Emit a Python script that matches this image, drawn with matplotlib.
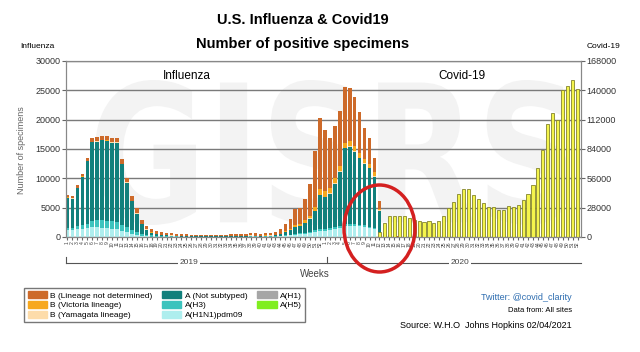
import numpy as np
import matplotlib
matplotlib.use("Agg")
import matplotlib.pyplot as plt
from matplotlib.patches import Patch, Ellipse, PathPatch
from matplotlib.textpath import TextPath
from matplotlib.font_manager import FontProperties
from matplotlib.transforms import Affine2D, blended_transform_factory

plt.rcParams['font.family'] = ['Liberation Sans Narrow', 'Liberation Sans', 'DejaVu Sans']

# week labels: 2019 weeks 1-52 then 2020 weeks 1-52
weeks_2019 = [str(w) for w in range(1, 53)]
weeks_2020 = [str(w) for w in range(1, 53)]
week_labels = weeks_2019 + weeks_2020

# influenza positives per week (left axis)
b_nd = [350, 350, 400, 450, 500, 550, 600, 650, 650, 700,
        700, 750, 700, 800, 800, 650, 500, 500, 420, 380,
        350, 320, 290, 270, 260, 250, 240, 230, 225, 230,
        240, 235, 250, 270, 290, 300, 310, 420, 350, 330,
        390, 420, 540, 780, 1130, 1620, 2660, 2710, 3650, 5340,
        9470, 12000, 10350, 8560, 8910, 9460, 9510, 9060, 8470, 6970,
        5230, 4330, 2390, 1320, 300, 120, 60, 40, 30, 20,
        15, 10, 10, 10, 10, 10, 10, 10, 10, 10,
        10, 10, 10, 10, 10, 10, 10, 10, 10, 10,
        10, 10, 10, 10, 10, 10, 15, 15, 15, 20,
        20, 20, 20, 20]
b_vic = [80, 80, 90, 100, 100, 120, 120, 130, 130, 130,
         130, 120, 100, 100, 90, 70, 60, 40, 30, 25,
         20, 18, 15, 15, 14, 13, 12, 12, 11, 12,
         12, 12, 13, 14, 15, 15, 16, 20, 18, 17,
         20, 22, 30, 40, 150, 200, 300, 350, 400, 500,
         700, 1000, 1000, 900, 900, 900, 900, 900, 850, 800,
         750, 700, 650, 300, 20, 10, 5, 0, 0, 0,
         0, 0, 0, 0, 0, 0, 0, 0, 0, 0,
         0, 0, 0, 0, 0, 0, 0, 0, 0, 0,
         0, 0, 0, 0, 0, 0, 0, 0, 0, 0,
         0, 0, 0, 0]
b_yam = [20, 20, 20, 20, 20, 20, 20, 20, 20, 20,
         20, 20, 20, 20, 20, 20, 20, 10, 8, 6,
         5, 5, 4, 4, 3, 3, 3, 3, 3, 3,
         3, 3, 3, 3, 3, 3, 3, 4, 4, 3,
         4, 4, 5, 6, 20, 30, 40, 40, 50, 60,
         80, 100, 100, 90, 90, 90, 90, 90, 80, 80,
         70, 70, 60, 30, 0, 0, 0, 0, 0, 0,
         0, 0, 0, 0, 0, 0, 0, 0, 0, 0,
         0, 0, 0, 0, 0, 0, 0, 0, 0, 0,
         0, 0, 0, 0, 0, 0, 0, 0, 0, 0,
         0, 0, 0, 0]
a_ns = [5050, 4950, 6490, 8230, 10580, 13310, 13360, 13550, 13600, 13400,
        13500, 10260, 7580, 4880, 3140, 1660, 900, 490, 300, 230,
        195, 140, 110, 105, 95, 85, 80, 70, 70, 75,
        85, 80, 95, 95, 100, 100, 110, 160, 140, 115,
        140, 150, 195, 285, 600, 780, 1150, 1300, 1680, 2200,
        3250, 5700, 5420, 5920, 7400, 9180, 12950, 13150, 12270, 11300,
        10520, 9950, 8780, 3800, 250, 100, 60, 40, 30, 20,
        15, 10, 10, 10, 10, 10, 10, 10, 10, 10,
        10, 10, 10, 10, 10, 10, 10, 10, 10, 10,
        10, 10, 10, 10, 10, 10, 10, 10, 10, 10,
        10, 10, 10, 10]
a_h3 = [400, 400, 500, 600, 800, 1100, 1200, 1300, 1300, 1300,
        1300, 1100, 900, 700, 500, 350, 250, 180, 130, 110,
        90, 80, 70, 60, 55, 50, 45, 45, 40, 40,
        40, 40, 40, 45, 45, 50, 50, 60, 55, 50,
        55, 60, 70, 90, 100, 120, 150, 150, 170, 200,
        250, 300, 280, 280, 300, 320, 350, 350, 330, 300,
        280, 250, 220, 100, 30, 10, 5, 0, 0, 0,
        0, 0, 0, 0, 0, 0, 0, 0, 0, 0,
        0, 0, 0, 0, 0, 0, 0, 0, 0, 0,
        0, 0, 0, 0, 0, 0, 0, 0, 0, 0,
        0, 0, 0, 0]
a_h1n1 = [1200, 1200, 1300, 1400, 1500, 1700, 1700, 1600, 1500, 1400,
          1300, 1000, 800, 500, 350, 200, 120, 80, 60, 50,
          40, 35, 30, 25, 25, 20, 20, 20, 20, 20,
          20, 20, 20, 25, 25, 30, 30, 35, 35, 35,
          40, 45, 60, 100, 200, 300, 400, 450, 550, 700,
          900, 1100, 1100, 1200, 1400, 1600, 1800, 1900, 1900, 1800,
          1700, 1500, 1300, 600, 100, 40, 20, 10, 0, 0,
          0, 0, 0, 0, 0, 0, 0, 0, 0, 0,
          0, 0, 0, 0, 0, 0, 0, 0, 0, 0,
          0, 0, 0, 0, 0, 0, 0, 0, 0, 0,
          0, 0, 0, 0]

# covid-19 positives per week (right axis), from 2020 week 12 on
covid_from = 63
covid_vals = [4800, 13400, 19800, 20500, 19800, 20500, 18200, 16600, 15400, 14500,
              15000, 13700, 15200, 19800, 28000, 33800, 41400, 45500, 45500, 40300,
              36300, 32800, 28300, 28300, 25500, 25500, 29300, 28600, 30200, 35000,
              40600, 49300, 65800, 83000, 108300, 118100, 111800, 140700, 144000, 150000,
              141700]

W, H = 640, 352
def fx(px):
    return px / W
def fy(py):
    return 1 - py / H

fig = plt.figure(figsize=(6.4, 3.52), dpi=100)
ax = fig.add_axes([fx(66), fy(237), fx(581) - fx(66), fy(61) - fy(237)])
ax2 = ax.twinx()

x = np.arange(len(week_labels))

# faint GISRS watermark behind the bars
tp = TextPath((0, 0), "GISRS", size=1, prop=FontProperties(family='DejaVu Sans', weight='bold'))
ext = tp.get_extents()
x0, x1 = (95 - 66) / 515, (570 - 66) / 515
y0, y1 = (237 - 225) / 176, (237 - 80) / 176
tr = (Affine2D().translate(-ext.x0, -ext.y0)
      .scale((x1 - x0) / ext.width, (y1 - y0) / ext.height)
      .translate(x0, y0) + ax.transAxes)
ax.add_patch(PathPatch(tp, transform=tr, facecolor='#f3f3f3', edgecolor='none', zorder=0.2))

flu = [
    (a_h1n1, '#aeeeee', 'A(H1N1)pdm09'),
    (a_h3, '#3cc3bd', 'A(H3)'),
    (a_ns, '#11807c', 'A (Not subtyped)'),
    (b_yam, '#fddcaa', 'B (Yamagata lineage)'),
    (b_vic, '#f7a81e', 'B (Victoria lineage)'),
    (b_nd, '#cd6a2a', 'B (Lineage not determined)'),
]
bottom = np.zeros(len(x))
for vals, col, lab in flu:
    vals = np.array(vals, dtype=float)
    ax.bar(x, vals, 0.72, bottom=bottom, color=col, zorder=2)
    bottom += vals

covid = np.zeros(len(x))
covid[covid_from:covid_from + len(covid_vals)] = covid_vals
ax2.bar(x, covid, 0.62, color='#f4f44c', edgecolor='#85852c', linewidth=0.6, zorder=2)

ax.set_xlim(-0.3, 103.7)
ax.set_ylim(0, 30000)
ax.set_yticks(range(0, 30001, 5000))
ax2.set_ylim(0, 168000)
ax2.set_yticks(range(0, 168001, 28000))
ax.grid(axis='y', color='#7a7a7a', linewidth=1.0)
ax.set_axisbelow(True)

ax.set_xticks(x)
ax.set_xticklabels(week_labels, rotation=90, fontsize=3.6, color='#444444')
ax.tick_params(axis='x', length=2, pad=1, color='#666666')
ax.tick_params(axis='y', labelsize=6.5, length=3, pad=1, color='#666666', labelcolor='#333333')
ax2.tick_params(axis='y', labelsize=6.5, length=3, pad=1, color='#666666', labelcolor='#333333')
for a in (ax, ax2):
    for s in a.spines.values():
        s.set_color('#888888')
        s.set_linewidth(0.8)

# titles and labels
fig.text(fx(303), fy(20), "U.S. Influenza & Covid19", ha='center', va='center',
         fontsize=10.5, fontweight='bold')
fig.text(fx(303), fy(44), "Number of positive specimens", ha='center', va='center',
         fontsize=10.5, fontweight='bold')
fig.text(fx(20), fy(47), "Influenza", ha='left', va='center', fontsize=6)
fig.text(fx(620), fy(47), "Covid-19", ha='right', va='center', fontsize=6)
fig.text(fx(22), fy(150), "Number of specimens", rotation=90, ha='center', va='center',
         fontsize=6.5, color='#666666')
fig.text(fx(187), fy(76), "Influenza", ha='center', va='center', fontsize=8.5)
fig.text(fx(462), fy(76), "Covid-19", ha='center', va='center', fontsize=8.5)

# year bracket under the week labels
trans = blended_transform_factory(ax.transData, fig.transFigure)
ax.plot([-0.3, 103.7], [fy(263), fy(263)], transform=trans, clip_on=False, color='#555555', lw=0.8)
ax.plot([-0.3, -0.3], [fy(263), fy(257)], transform=trans, clip_on=False, color='#555555', lw=0.8)
ax.plot([52.5, 52.5], [fy(263), fy(257)], transform=trans, clip_on=False, color='#555555', lw=0.8)
ax.text(24.5, fy(263), "2019", transform=trans, ha='center', va='center', fontsize=6,
        color='#444444', bbox=dict(facecolor='white', edgecolor='none', pad=1))
ax.text(79.3, fy(263), "2020", transform=trans, ha='center', va='center', fontsize=6,
        color='#444444', bbox=dict(facecolor='white', edgecolor='none', pad=1))
fig.text(fx(315), fy(274), "Weeks", ha='center', va='center', fontsize=7, color='#444444')

# legend: B types, A types, A(H1)/A(H5)
by_label = {l: c for _, c, l in flu}
legend_labels = ['B (Lineage not determined)', 'B (Victoria lineage)', 'B (Yamagata lineage)',
                 'A (Not subtyped)', 'A(H3)', 'A(H1N1)pdm09']
handles = [Patch(color=by_label[l], label=l) for l in legend_labels]
handles += [Patch(color='#a6a6a6', label='A(H1)'), Patch(color='#80ee20', label='A(H5)')]
leg = fig.legend(handles=handles, ncol=3, loc='upper left', bbox_to_anchor=(fx(20), fy(284)),
                 fontsize=6, frameon=True, fancybox=False, edgecolor='#555555',
                 handlelength=2.3, handleheight=0.9, handletextpad=0.4, columnspacing=1.2,
                 labelspacing=0.15, borderpad=0.4)
leg.get_frame().set_linewidth(1.0)

fig.text(fx(572), fy(297), "Twitter: @covid_clarity", ha='right', va='center', fontsize=6.5, color='#2e6db0')
fig.text(fx(572), fy(311), "Data from: All sites", ha='right', va='center', fontsize=5.5)
fig.text(fx(572), fy(326), "Source: W.H.O  Johns Hopkins 02/04/2021", ha='right', va='center', fontsize=6.5)

# red highlight around the flu/covid crossover
fig.add_artist(Ellipse((fx(379.5), fy(228.5)), 71 / W, 87 / H, transform=fig.transFigure,
                       fill=False, edgecolor='#d42020', linewidth=2.5, zorder=10))

fig.savefig('out.png', dpi=100)
